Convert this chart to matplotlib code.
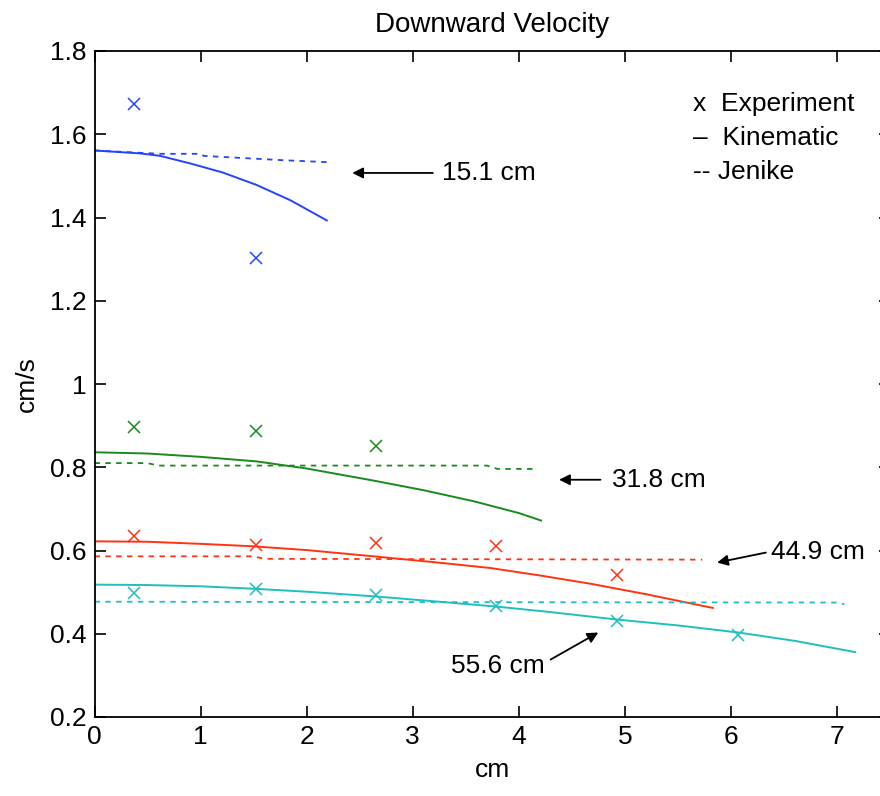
import matplotlib
matplotlib.use("Agg")
import matplotlib.pyplot as plt

plt.rcParams['font.family'] = ['Liberation Sans', 'DejaVu Sans']

exp_x = [0.37, 1.52, 2.65, 3.79, 4.93, 6.07]

blue_exp = [1.673, 1.303]
blue_kin_x = [0.0, 0.43, 0.62, 0.9, 1.21, 1.53, 1.85, 2.19]
blue_kin_y = [1.561, 1.554, 1.548, 1.530, 1.508, 1.478, 1.441, 1.393]
blue_jen_x = [0.0, 0.62, 1.0, 1.03, 1.75, 2.19]
blue_jen_y = [1.561, 1.553, 1.553, 1.548, 1.538, 1.533]

green_exp = [0.897, 0.888, 0.852]
green_kin_x = [0.0, 0.5, 1.0, 1.53, 2.0, 2.63, 3.1, 3.58, 4.0, 4.21]
green_kin_y = [0.836, 0.833, 0.825, 0.814, 0.797, 0.768, 0.745, 0.718, 0.690, 0.672]
green_jen_x = [0.0, 0.5, 0.6, 3.7, 3.8, 4.18]
green_jen_y = [0.810, 0.810, 0.804, 0.804, 0.796, 0.796]

red_exp = [0.634, 0.614, 0.618, 0.610, 0.540]
red_kin_x = [0.0, 0.5, 1.0, 1.5, 2.0, 2.63, 3.2, 3.73, 4.2, 4.68, 5.2, 5.83]
red_kin_y = [0.622, 0.621, 0.616, 0.610, 0.601, 0.586, 0.572, 0.558, 0.540, 0.520, 0.495, 0.462]
red_jen_x = [0.0, 1.5, 1.6, 5.73]
red_jen_y = [0.586, 0.586, 0.580, 0.578]

cyan_exp = [0.499, 0.508, 0.494, 0.467, 0.430, 0.398]
cyan_kin_x = [0.0, 0.5, 1.0, 1.51, 2.0, 2.63, 3.2, 3.8, 4.3, 4.93, 5.5, 6.07, 6.6, 7.17]
cyan_kin_y = [0.518, 0.517, 0.514, 0.508, 0.501, 0.490, 0.478, 0.465, 0.452, 0.434, 0.420, 0.403, 0.383, 0.356]
cyan_jen_x = [0.0, 3.0, 7.0, 7.07]
cyan_jen_y = [0.477, 0.476, 0.475, 0.471]

colors = ['#2244ff', '#1a8a1a', '#ff3312', '#1fbfbf']

fig = plt.figure(figsize=(8.8, 7.96), dpi=100)
ax = fig.add_axes([94.5 / 880, 79 / 796, (890 - 94.5) / 880, 666 / 796])

series = [
    (blue_exp, blue_kin_x, blue_kin_y, blue_jen_x, blue_jen_y),
    (green_exp, green_kin_x, green_kin_y, green_jen_x, green_jen_y),
    (red_exp, red_kin_x, red_kin_y, red_jen_x, red_jen_y),
    (cyan_exp, cyan_kin_x, cyan_kin_y, cyan_jen_x, cyan_jen_y),
]
for c, (ey, kx, ky, jx, jy) in zip(colors, series):
    ax.plot(exp_x[:len(ey)], ey, 'x', color=c, ms=8, mew=1.1)
    ax.plot(kx, ky, '-', color=c, lw=1.4)
    ax.plot(jx, jy, '--', color=c, lw=1.3, dashes=(3, 3))

arr = dict(arrowstyle='-|>', color='k', lw=1.3, mutation_scale=16, shrinkA=0, shrinkB=0)
fs = 19
ax.annotate('', xy=(2.43, 1.507), xytext=(3.19, 1.507), arrowprops=arr)
ax.text(3.28, 1.507, '15.1 cm', fontsize=fs, va='center')
ax.annotate('', xy=(4.38, 0.770), xytext=(4.77, 0.770), arrowprops=arr)
ax.text(4.88, 0.770, '31.8 cm', fontsize=fs, va='center')
ax.annotate('', xy=(5.87, 0.571), xytext=(6.33, 0.595), arrowprops=arr)
ax.text(6.38, 0.597, '44.9 cm', fontsize=fs, va='center')
ax.annotate('', xy=(4.75, 0.403), xytext=(4.30, 0.338), arrowprops=arr)
ax.text(3.8, 0.322, '55.6 cm', fontsize=fs, va='center', ha='center')

ax.text(5.64, 1.673, 'x  Experiment', fontsize=fs, va='center')
ax.text(5.64, 1.591, '\u2013  Kinematic', fontsize=fs, va='center')
ax.text(5.64, 1.510, '-- Jenike', fontsize=fs, va='center')

ax.set_xlim(0, 7.5)
ax.set_ylim(0.2, 1.8)
ax.set_xticks(range(8))
ax.set_yticks([0.2, 0.4, 0.6, 0.8, 1.0, 1.2, 1.4, 1.6, 1.8])
ax.set_yticklabels(['0.2', '0.4', '0.6', '0.8', '1', '1.2', '1.4', '1.6', '1.8'])
ax.tick_params(direction='in', top=True, right=True, length=8, width=1.2,
               labelsize=fs, pad=6)
for s in ax.spines.values():
    s.set_linewidth(1.3)
ax.spines['right'].set_visible(False)
ax.set_xlabel('cm', fontsize=fs, labelpad=6)
ax.set_ylabel('cm/s', fontsize=fs, labelpad=8)
ax.set_title('Downward Velocity', fontsize=20, pad=14)

fig.savefig('out.png', dpi=100)
